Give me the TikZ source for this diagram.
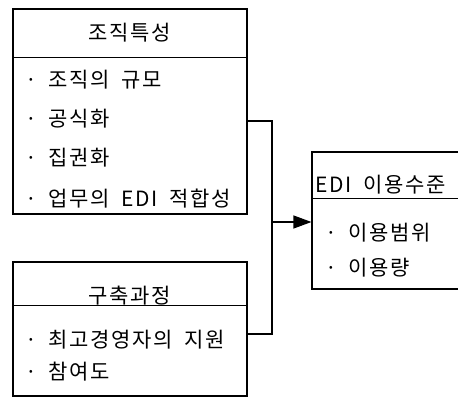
\documentclass[tikz,border=0pt]{standalone}
\usepackage{fontspec}
\setmainfont{Noto Sans CJK KR}[LetterSpace=8,WordSpace=1.8]
\usetikzlibrary{positioning,calc,arrows.meta}

\begin{document}
\begin{tikzpicture}[x=1pt,y=-1pt,line width=1.1pt,
  box/.style={draw,rectangle,inner sep=0pt},
  title/.style={font=\fontsize{21}{23}\selectfont},
  item/.style={anchor=west,inner sep=0pt,font=\fontsize{21}{23}\selectfont}]
  \useasboundingbox (0,0) rectangle (458,398);
  \begin{scope}
  \clip (0,0) rectangle (458,398);
  % boxes
  \node[box,minimum width=234pt,minimum height=205pt] (org) at (130,111.5) {};
  \node[box,minimum width=234pt,minimum height=134pt] (proc) at (130,329) {};
  \node[box,minimum width=200pt,minimum height=137pt] (use) at (412,220.5) {};
  \draw ($(org.north west)+(0,49)$) -- ($(org.north east)+(0,49)$);
  \draw ($(proc.north west)+(0,44)$) -- ($(proc.north east)+(0,44)$);
  \draw ($(use.north west)+(0,47)$) -- ($(use.north east)+(0,47)$);
  % texts
  \node[title] (orgT) at (130,33) {조직특성};
  \node[item] (org1) at (25,80) {· 조직의 규모};
  \node[item] (org2) at (25,119) {· 공식화};
  \node[item] (org3) at (25,158) {· 집권화};
  \node[item] (org4) at (25,199) {· 업무의 EDI 적합성};
  \node[title] (procT) at (130,296) {구축과정};
  \node[item] (proc1) at (25,340) {· 최고경영자의 지원};
  \node[item] (proc2) at (25,372) {· 참여도};
  \node[item] (useT) at (315,185) {EDI 이용수준};
  \node[item] (use1) at (325,233) {· 이용범위};
  \node[item] (use2) at (325,268) {· 이용량};
  % connectors
  \coordinate (jn) at (272,222);
  \draw (org.east |- 0,121) -| (jn |- 0,121) -- (jn |- 0,334) -- (proc.east |- 0,334);
  \draw[-{Triangle[length=18pt,width=13pt]}] (jn) -- (use.west |- jn);
  \end{scope}
\end{tikzpicture}
\end{document}
